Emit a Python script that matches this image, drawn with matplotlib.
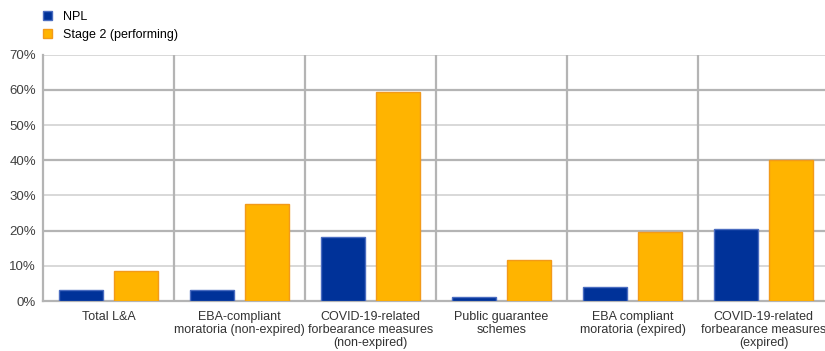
import numpy as np
import matplotlib.pyplot as plt
from matplotlib.ticker import MultipleLocator, PercentFormatter

plt.rcParams['font.family'] = ['Liberation Sans', 'DejaVu Sans']

categories = ["Total L&A",
              "EBA-compliant\nmoratoria (non-expired)",
              "COVID-19-related\nforbearance measures\n(non-expired)",
              "Public guarantee\nschemes",
              "EBA compliant\nmoratoria (expired)",
              "COVID-19-related\nforbearance measures\n(expired)"]
npl = [3.1, 3.1, 18.2, 1.0, 4.0, 20.6]
stage2 = [8.6, 27.6, 59.4, 11.6, 19.7, 40.0]

blue = "#003299"
orange = "#ffb400"

fig = plt.figure(figsize=(8.25, 3.51), dpi=100)
# plot area runs slightly past the right edge of the figure
ax = fig.add_axes([43 / 825, 50 / 351, 786 / 825, 246.3 / 351])

x = np.arange(len(categories))
w = 0.335
ax.bar(x - 0.21, npl, w, color=blue, edgecolor="#4a6cc0", linewidth=1.0,
       label="NPL", zorder=3)
ax.bar(x + 0.21, stage2, w, color=orange, edgecolor="#f29a1a", linewidth=1.0,
       label="Stage 2 (performing)", zorder=3)

ax.set_xlim(-0.5, len(categories) - 0.5)
ax.set_ylim(0, 70)
ax.yaxis.set_major_locator(MultipleLocator(10))
ax.yaxis.set_major_formatter(PercentFormatter(decimals=0))

# horizontal grid: darker at 20/40/60, lighter in between
for v in range(10, 71, 10):
    if v % 20 == 0:
        ax.axhline(v, color="#b4b4b4", linewidth=1.6, zorder=1)
    else:
        ax.axhline(v, color="#d2d2d2", linewidth=1.2, zorder=1)
# category separators
for b in np.arange(0.5, len(categories) - 0.5, 1.0):
    ax.axvline(b, color="#b4b4b4", linewidth=1.6, zorder=1)

ax.set_xticks(x)
ax.set_xticklabels(categories, fontsize=9, color="#333333", linespacing=1.15)
ax.tick_params(axis="y", labelsize=9.5, labelcolor="#404040", length=0, pad=5)
ax.tick_params(axis="x", length=0, pad=7)

for side in ["top", "right"]:
    ax.spines[side].set_visible(False)
ax.spines["left"].set_color("#b4b4b4")
ax.spines["left"].set_linewidth(1.6)
ax.spines["bottom"].set_color("#b4b4b4")
ax.spines["bottom"].set_linewidth(1.6)

handles, labels = ax.get_legend_handles_labels()
fig.legend(handles, labels, loc="upper left", bbox_to_anchor=(35 / 825, 1 - 3 / 351),
           frameon=False, fontsize=9, handlelength=0.75, handleheight=0.75,
           handletextpad=0.9, labelspacing=0.5, borderaxespad=0.2)

fig.savefig("out.png", dpi=100)
